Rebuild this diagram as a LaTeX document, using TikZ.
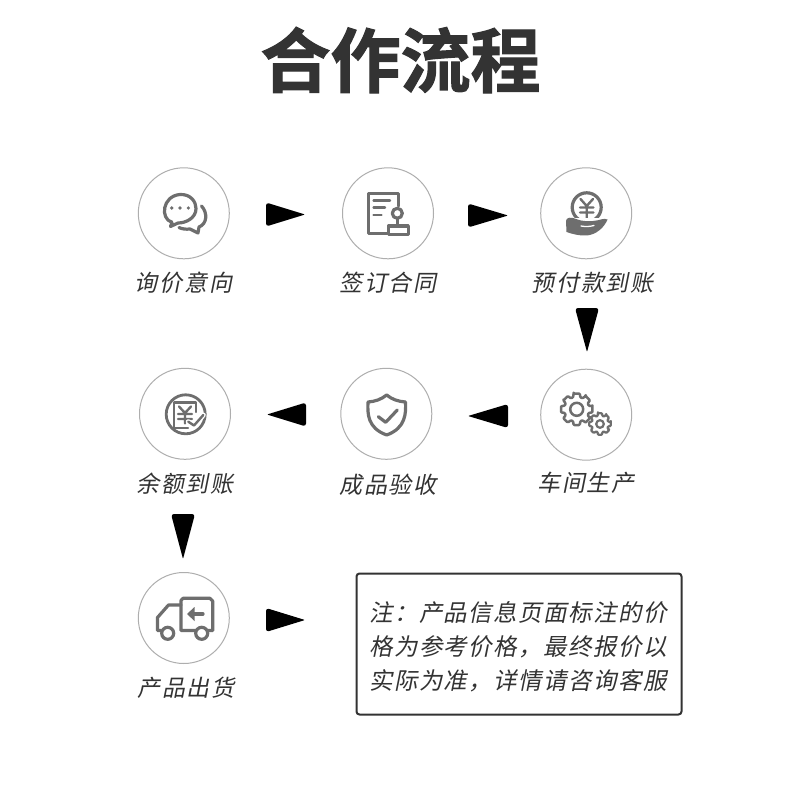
\documentclass[tikz,border=0pt]{standalone}
\usepackage{fontspec}
\usetikzlibrary{calc}
\newfontfamily\cjklabel[FakeSlant=0.2,LetterSpace=8]{Noto Sans CJK SC}
\newfontfamily\cjknote[FakeSlant=0.2,LetterSpace=6]{Noto Sans CJK SC}
\newfontfamily\cjktitle[FakeBold=1.5]{Noto Sans CJK SC Bold}
\definecolor{ink}{HTML}{333333}
\definecolor{icongray}{HTML}{6E6E6E}
\definecolor{ringgray}{HTML}{AEAEAE}
\tikzset{
  ring/.style={circle,draw=ringgray,line width=1pt,minimum size=91pt,inner sep=0pt,fill=white},
  steplabel/.style={text=ink,font=\cjklabel\fontsize{23}{26}\selectfont,inner sep=0pt},
  icon/.style={draw=icongray,line width=3.2pt,line join=round,line cap=round},
  thin icon/.style={draw=icongray,line width=2.4pt,line join=round,line cap=round},
  iconfill/.style={fill=icongray,draw=none},
  notebox/.style={draw=ink,line width=2pt,rounded corners=3pt,fill=white,inner sep=0pt},
  noteline/.style={text=ink,font=\cjknote\fontsize{23.5}{28}\selectfont,inner sep=0pt},
  blob/.style={fill=black,draw=none}
}
% wedge connector from a tail coordinate to a head coordinate
\newcommand{\wedgeconn}[2]{%
  \fill[blob] (#1) [rounded corners=3pt] -- ($(#1)!12pt!-90:(#2)$) [rounded corners=1pt] -- (#2) [rounded corners=3pt] -- ($(#1)!12pt!90:(#2)$) [sharp corners] -- (#1) -- cycle;%
}
% gear: centre x, y, outer radius, inner radius, hole radius
\newcommand{\gearicon}[6]{%
  \begin{scope}[shift={(#1,#2)}]
    \draw[#6,rounded corners=0.8pt] (-11:#3)
      \foreach \a in {0,45,...,315} { -- (\a-11:#3) -- (\a+11:#3) -- (\a+17:#4) -- (\a+28:#4) -- (\a+34:#3) } -- cycle;
    \draw[#6] (0,0) circle (#5);
  \end{scope}%
}
\begin{document}
\begin{tikzpicture}[x=1pt,y=-1pt]
\useasboundingbox (0,0) rectangle (800,794);
\fill[white] (0,0) rectangle (800,794);
\node[text=ink,font=\cjktitle\fontsize{70}{80}\selectfont,inner sep=0pt] (title) at (400.5,60) {合作流程};

% rings
\node[ring] (c1) at (183.8,213.3) {};
\node[ring] (c2) at (388,213.3) {};
\node[ring] (c3) at (586.2,213.3) {};
\node[ring] (c4) at (185,413.8) {};
\node[ring] (c5) at (386.3,413.8) {};
\node[ring] (c6) at (586.2,414.7) {};
\node[ring] (c7) at (183.8,618) {};

% labels
\node[steplabel] (l1) at (183.5,282.5) {询价意向};
\node[steplabel] (l2) at (388,282.5) {签订合同};
\node[steplabel] (l3) at (592.5,282.5) {预付款到账};
\node[steplabel] (l4) at (185,483.5) {余额到账};
\node[steplabel] (l5) at (388,484.5) {成品验收};
\node[steplabel] (l6) at (586,482.5) {车间生产};
\node[steplabel] (l7) at (186,687.5) {产品出货};

% wedge connectors
\coordinate (a1t) at (266,214.5); \coordinate (a1h) at (305,214.5);
\coordinate (a2t) at (468,215.5); \coordinate (a2h) at (508,215.5);
\coordinate (a3t) at (587,308);   \coordinate (a3h) at (587,352);
\coordinate (a4t) at (508,416);   \coordinate (a4h) at (468,416);
\coordinate (a5t) at (306,414.5); \coordinate (a5h) at (267,414.5);
\coordinate (a6t) at (183,514);   \coordinate (a6h) at (183,559);
\coordinate (a7t) at (266,620);   \coordinate (a7h) at (305,620);
\wedgeconn{a1t}{a1h}
\wedgeconn{a2t}{a2h}
\wedgeconn{a3t}{a3h}
\wedgeconn{a4t}{a4h}
\wedgeconn{a5t}{a5h}
\wedgeconn{a6t}{a6h}
\wedgeconn{a7t}{a7h}

% note
\node[notebox,minimum width=325pt,minimum height=141pt] (note) at (519,644) {};
\node[noteline] (n1) at (518,612.5) {注：产品信息页面标注的价};
\node[noteline] (n2) at (518,646.5) {格为参考价格，最终报价以};
\node[noteline] (n3) at (518,680.5) {实际为准，详情请咨询客服};

% icon 1: chat
\draw[icon] (172,222.3) .. controls (160,219) and (162,196) .. (180,194.5) .. controls (191,194) and (196,202) .. (196,208.5) .. controls (196,218) and (186,223) .. (178,223) -- (170.5,226.5) -- cycle;
\draw[icon] (201.5,206) .. controls (208,213) and (207,224) .. (199,227) -- (198,233) -- (190,229) .. controls (186,229.5) and (182,229) .. (179,227.5);
\fill[icongray] (171.7,208) circle (1.8) (180,208) circle (1.8) (188.3,208) circle (1.8);

% icon 2: contract and stamp
\draw[icon] (398.3,206) -- (398.3,193.3) -- (368.3,193.3) -- (368.3,233.5) -- (387,233.5);
\draw[thin icon] (373.5,200.7) -- (390,200.7) (373.5,207.7) -- (385,207.7) (373.5,215) -- (381.5,215);
\draw[icon] (397.3,213.3) circle (5);
\draw[icon] (397.3,218.5) -- (397.3,226);
\draw[icon] (388.5,226) rectangle (408.3,234.3);

% icon 3: coin in hand
\draw[icon] (586.7,207.3) circle (14.5);
\draw[thin icon] (580.5,199) -- (586.7,206) -- (593,199) (586.7,206) -- (586.7,218) (580,207.5) -- (593.5,207.5) (580,212.5) -- (593.5,212.5);
\fill[white] (566,218) rectangle (607,224);
\fill[iconfill] (566,221) .. controls (566,217.5) and (571,216.5) .. (576,219) .. controls (582,221.5) and (590,221.5) .. (593,221) .. controls (600,220.5) and (604,217.5) .. (607.5,219.5) .. controls (604,228) and (596,234.5) .. (587,235.5) .. controls (580,236) and (572,234) .. (566.5,232) -- cycle;
\draw[white,line width=1.3pt,line cap=round] (581,226) .. controls (586,227) and (590,226.5) .. (594,225.5);

% icon 4: money with check
\draw[icon,line width=2.8pt] (185.7,414.3) circle (19.5);
\draw[thin icon] (196,412) -- (196,402.5) -- (174,402.5) -- (174,427.8) -- (188,427.8);
\draw[thin icon] (179,406.5) -- (185,413) -- (191,406.5) (185,413) -- (185,423.5) (178,414) -- (192,414) (178,419) -- (192,419);
\draw[white,line width=5pt,line cap=round] (188.3,421.7) -- (194,425.5) -- (203.3,415);
\draw[thin icon] (188.3,421.7) -- (194,425.5) -- (203.3,415);

% icon 5: shield
\draw[icon] (386.7,395) .. controls (381,399.5) and (375,401.5) .. (368,402) .. controls (367.5,413) and (367,428) .. (386.7,435) .. controls (406,428) and (406,413) .. (405.5,402) .. controls (398.5,401.5) and (392,399.5) .. (386.7,395) -- cycle;
\draw[icon] (378.3,416.7) -- (385.7,422.3) -- (397.3,410);

% icon 6: gears
\gearicon{576.7}{409.3}{16}{12.5}{6.5}{icon,line width=2.5pt}
\gearicon{600}{424}{11}{8.3}{3.8}{icon,line width=2.2pt}

% icon 7: truck
\draw[icon] (181,630.5) -- (181,600.5) -- (183,598.3) -- (210,598.3) -- (212.7,601) -- (212.7,630.5) -- (181,630.5);
\draw[icon] (181,605) -- (168.5,605) -- (157.5,617.5) -- (157.5,630.5) -- (161,630.5);
\draw[icon,fill=white] (167.7,633.3) circle (6);
\draw[icon,fill=white] (201.7,633.3) circle (6);
\draw[icon] (190,614) -- (203,614);
\fill[icongray] (187,614) -- (194.5,607) -- (194.5,621) -- cycle;
\end{tikzpicture}
\end{document}
